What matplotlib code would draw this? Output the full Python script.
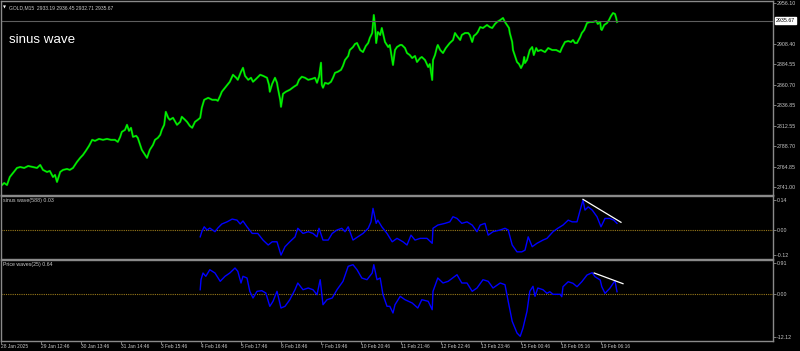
import numpy as np
import matplotlib
matplotlib.use("Agg")
from matplotlib import pyplot as plt

plt.rcParams['font.family'] = ['Liberation Sans', 'DejaVu Sans']

# ---- data (bar index of M15 bars) ----
price_bar = [0, 8, 15, 22, 32, 40, 48, 58, 68, 80, 90, 98, 105, 115, 122, 130, 135, 140, 148, 155,
             165, 172, 180, 190, 198, 205, 212, 220, 228, 235, 245, 255, 265, 275, 285, 292, 298, 302,
             310, 315, 320, 325, 330, 338, 342, 348, 352, 360, 365, 372, 380, 385, 392, 398, 402, 408,
             412, 418, 422, 430, 440, 448, 452, 460, 465, 472, 478, 485, 492, 498, 502, 508, 518, 528,
             538, 542, 548, 552, 562, 572, 580, 588, 592, 600, 605, 610, 618, 625, 630, 638, 648, 655,
             665, 670, 672, 678, 685, 690, 692, 698, 700, 705, 712, 722, 732, 740, 745, 752, 760, 768,
             778, 785, 790, 795, 800, 802, 805, 810, 818, 825, 830, 835, 842, 850, 855, 860, 868, 872,
             880, 885, 890, 898, 905, 912, 918, 922, 928, 932, 935, 938, 942, 948, 952, 960, 968, 972,
             980, 985, 990, 998, 1002, 1010, 1015, 1022, 1028, 1035, 1040, 1048, 1052, 1060, 1068, 1072,
             1078, 1080, 1085, 1090, 1092, 1098, 1105, 1112, 1122, 1130, 1135, 1140, 1148, 1152, 1160,
             1168, 1172, 1178, 1182, 1188, 1192, 1198, 1205, 1215, 1222, 1228, 1235, 1240, 1248, 1255,
             1260, 1265, 1270, 1272, 1278, 1280, 1285, 1290, 1295, 1300, 1305, 1308, 1310, 1315, 1322,
             1328, 1332, 1338, 1342, 1350, 1360, 1368, 1378, 1388, 1398, 1402, 1410, 1418, 1425, 1430,
             1435, 1440, 1448, 1452, 1458, 1465, 1472, 1480, 1488, 1492, 1498, 1500, 1502, 1508, 1515,
             1520, 1525, 1530, 1535, 1538, 1540]
price_val = [2742.2, 2745.7, 2743.3, 2752.7, 2758.6, 2763.3, 2764.4, 2763.3, 2765.6, 2764.4, 2763.3,
             2766.8, 2761.0, 2758.6, 2759.8, 2752.7, 2755.1, 2746.9, 2758.6, 2761.0, 2762.1, 2761.0,
             2763.3, 2770.4, 2775.1, 2778.6, 2783.3, 2789.1, 2796.2, 2795.0, 2797.3, 2796.2, 2797.3,
             2796.2, 2796.2, 2793.8, 2799.7, 2805.5, 2807.9, 2813.8, 2806.7, 2810.3, 2799.7, 2800.9,
             2798.5, 2790.3, 2784.5, 2778.6, 2775.1, 2784.5, 2790.3, 2796.2, 2798.5, 2802.0, 2807.9,
             2813.8, 2829.0, 2822.0, 2819.7, 2822.0, 2813.8, 2817.3, 2823.2, 2819.7, 2817.3, 2812.6,
             2810.3, 2817.3, 2819.7, 2822.0, 2833.7, 2843.1, 2845.4, 2843.1, 2843.1, 2841.9, 2847.8,
             2852.5, 2858.3, 2864.2, 2872.4, 2868.9, 2866.5, 2875.9, 2880.6, 2871.2, 2866.5, 2868.9,
             2864.2, 2867.7, 2872.4, 2871.2, 2868.9, 2860.6, 2852.5, 2861.8, 2868.9, 2863.0, 2857.2,
             2843.1, 2834.9, 2850.1, 2852.5, 2854.8, 2858.3, 2860.7, 2866.5, 2870.1, 2868.9, 2866.5,
             2867.7, 2868.9, 2863.0, 2870.1, 2886.5, 2860.7, 2857.2, 2863.0, 2861.8, 2864.2, 2868.9,
             2874.7, 2875.9, 2878.2, 2882.9, 2889.7, 2894.4, 2901.4, 2904.9, 2908.4, 2909.6, 2901.4,
             2899.0, 2906.1, 2909.6, 2915.5, 2921.3, 2942.4, 2930.7, 2909.6, 2922.5, 2919.0, 2927.2,
             2910.8, 2904.9, 2907.3, 2883.9, 2901.4, 2904.9, 2907.3, 2907.3, 2903.7, 2897.9, 2895.5,
             2892.0, 2894.4, 2887.4, 2892.0, 2893.2, 2889.7, 2881.5, 2885.0, 2866.3, 2889.7, 2895.5,
             2904.9, 2907.3, 2901.4, 2897.9, 2903.7, 2909.6, 2913.1, 2921.3, 2917.8, 2913.1, 2919.0,
             2921.3, 2921.3, 2919.0, 2910.8, 2917.8, 2920.1, 2922.5, 2928.3, 2927.2, 2930.7, 2928.3,
             2927.2, 2931.9, 2934.2, 2936.5, 2938.9, 2934.2, 2930.7, 2927.2, 2921.3, 2910.8, 2901.4,
             2894.4, 2887.4, 2885.0, 2880.3, 2885.0, 2893.2, 2886.2, 2889.7, 2901.4, 2904.9, 2895.5,
             2903.7, 2900.2, 2901.4, 2899.0, 2903.7, 2901.4, 2901.4, 2899.0, 2903.7, 2910.8, 2911.9,
             2910.8, 2913.1, 2909.6, 2909.6, 2916.6, 2921.3, 2924.8, 2933.0, 2934.2, 2934.2, 2935.4,
             2931.9, 2934.2, 2926.0, 2924.8, 2930.7, 2933.0, 2936.5, 2941.2, 2944.7, 2943.6, 2938.9,
             2934.2]

sinus_bar = [498, 502, 508, 515, 522, 535, 542, 552, 565, 578, 590, 598, 605, 615, 628, 642, 655, 668,
             678, 690, 700, 710, 722, 735, 742, 755, 768, 780, 790, 795, 805, 818, 828, 840, 852, 860,
             868, 880, 892, 905, 918, 925, 930, 938, 942, 952, 965, 978, 990, 1005, 1015, 1025, 1035,
             1048, 1065, 1078, 1080, 1092, 1110, 1122, 1130, 1140, 1152, 1165, 1178, 1190, 1198, 1210,
             1218, 1230, 1248, 1260, 1268, 1278, 1290, 1302, 1310, 1318, 1328, 1340, 1355, 1365, 1380,
             1392, 1405, 1418, 1428, 1440, 1448, 1455, 1460, 1468, 1478, 1490, 1500, 1510, 1522, 1532,
             1540]
sinus_val = [-0.034, -0.010, 0.013, -0.002, 0.007, -0.010, 0.007, 0.026, 0.036, 0.049, 0.044, 0.026,
             0.040, 0.013, -0.018, -0.018, -0.049, -0.072, -0.057, -0.057, -0.119, -0.080, -0.057,
             -0.034, 0.006, -0.018, -0.010, -0.018, -0.034, 0.006, -0.049, -0.049, -0.018, -0.002,
             0.006, -0.010, 0.013, -0.049, -0.034, -0.018, 0.006, 0.036, 0.099, 0.029, 0.044, 0.013,
             -0.018, -0.057, -0.041, -0.057, -0.072, -0.026, -0.049, -0.041, -0.041, -0.064, 0.006,
             0.021, 0.029, 0.036, 0.060, 0.052, 0.029, 0.036, 0.021, -0.010, 0.021, 0.029, -0.026,
             -0.010, -0.002, 0.006, -0.002, -0.072, -0.104, -0.104, -0.096, -0.034, -0.080, -0.064,
             -0.049, -0.041, -0.010, 0.006, 0.021, 0.044, 0.036, 0.036, 0.091, 0.138, 0.091, 0.106,
             0.091, 0.060, 0.013, 0.052, 0.052, 0.044, 0.029]

waves_bar = [498, 500, 505, 512, 522, 535, 548, 560, 572, 585, 592, 600, 605, 615, 622, 630, 640, 652,
             662, 672, 680, 690, 700, 710, 722, 735, 742, 755, 768, 780, 790, 798, 805, 815, 828, 840,
             855, 868, 880, 890, 902, 915, 928, 932, 940, 948, 955, 965, 972, 980, 985, 998, 1010, 1028,
             1042, 1052, 1068, 1078, 1080, 1092, 1105, 1118, 1140, 1152, 1165, 1178, 1190, 1205, 1218,
             1230, 1248, 1260, 1268, 1278, 1290, 1298, 1305, 1315, 1322, 1330, 1335, 1342, 1355, 1365,
             1372, 1380, 1398, 1402, 1405, 1418, 1430, 1440, 1452, 1465, 1478, 1485, 1498, 1502, 1510,
             1522, 1535, 1540]
waves_val = [0.135, 0.429, 0.626, 0.529, 0.723, 0.626, 0.382, 0.529, 0.626, 0.773, 0.676, 0.332, 0.529,
             0.479, 0.088, -0.109, 0.088, 0.106, 0.038, -0.353, -0.206, 0.088, -0.403, -0.353, -0.159,
             0.135, 0.332, 0.135, 0.185, 0.135, -0.012, 0.429, -0.306, -0.159, -0.109, 0.135, 0.382,
             0.823, 0.870, 0.723, 0.479, 0.429, 0.626, 0.870, 0.429, 0.479, -0.012, -0.353, -0.353,
             -0.550, -0.306, -0.059, -0.159, -0.256, -0.403, -0.159, -0.206, -0.453, 0.088, 0.479,
             0.332, 0.382, 0.576, 0.332, 0.332, 0.088, 0.185, 0.429, 0.382, 0.185, 0.332, 0.282,
             -0.206, -0.794, -1.138, -1.235, -0.991, -0.500, 0.088, 0.235, -0.059, 0.185, 0.135,
             0.029, 0.076, 0.000, 0.000, -0.071, 0.223, 0.370, 0.323, 0.223, 0.370, 0.567, 0.635,
             0.517, 0.420, 0.223, 0.029, 0.176, 0.400, 0.076]

# trendlines drawn on the indicator windows
trend1_bar = [1455, 1550]
trend1_val = [0.141, 0.034]
trend2_bar = [1483, 1555]
trend2_val = [0.626, 0.312]

time_ticks = [0, 100, 200, 300, 400, 500, 600, 700, 800, 900, 1000, 1100, 1200, 1300, 1400, 1500]
time_labels = ["28 Jan 2025", "29 Jan 12:46", "30 Jan 13:46", "31 Jan 14:46", "3 Feb 15:46",
               "4 Feb 16:46", "5 Feb 17:46", "6 Feb 18:46", "7 Feb 19:46", "10 Feb 20:46",
               "11 Feb 21:46", "12 Feb 22:46", "13 Feb 23:46", "15 Feb 00:46", "18 Feb 05:16",
               "19 Feb 06:16"]

# 2932.25 sits under the bid box in the terminal, so it is left out
price_ticks = [2956.10, 2908.40, 2884.55, 2860.70, 2836.85, 2812.55, 2788.70, 2764.85, 2741.00]
bid = 2935.67
sinus_ticks = [0.14, 0.0, -0.12]
sinus_labels = ["0.14", "0.00", "-0.12"]
waves_ticks = [0.91, 0.0, -1.255]
waves_labels = ["0.91", "0.00", "-12.12"]

# ---- layout helpers ----
W, H = 800, 351
BG = "black"
FRAME = "#8a8a8a"
TXT = "#c8c8c8"
ZERO = "#9a7a1a"


def pane(y0, y1, x0=1, x1=773):
    return [x0 / W, 1 - y1 / H, (x1 - x0) / W, (y1 - y0) / H]


fig = plt.figure(figsize=(W / 100, H / 100), dpi=100, facecolor=BG)
ax0 = fig.add_axes(pane(1, 194.5))
ax1 = fig.add_axes(pane(195.5, 258.5))
ax2 = fig.add_axes(pane(259.5, 340.5))

for ax in (ax0, ax1, ax2):
    ax.set_facecolor(BG)
    for s in ax.spines.values():
        s.set_color(FRAME)
        s.set_linewidth(1.0)
    ax.set_xlim(0, 1930)
    ax.yaxis.tick_right()
    ax.tick_params(axis="y", colors=FRAME, labelcolor=TXT, labelsize=3.8, length=2, width=0.6, pad=1)
    ax.tick_params(axis="x", bottom=False, labelbottom=False)

# main price window
ax0.set_ylim(2732.2, 2958.8)
ax0.plot(price_bar, price_val, color="#00a800", lw=1.5)
ax0.plot(price_bar, price_val, color="#00ff00", lw=0.7)
ax0.axhline(bid, color="#5e5e5e", lw=0.8)
ax0.set_yticks(price_ticks)
ax0.set_yticklabels(["%.2f" % v for v in price_ticks])
ax0.text(1.004, bid, "%.2f" % bid, transform=ax0.get_yaxis_transform(), fontsize=3.8,
         color="black", va="center", ha="left",
         bbox=dict(boxstyle="square,pad=0.15", fc="white", ec="white"))
ax0.text(0.003, 0.965, "\u25bc", transform=ax0.transAxes, fontsize=2.8, color="white",
         va="center", ha="left", family="DejaVu Sans")
ax0.text(0.011, 0.965, "GOLD,M15  2933.19 2936.45 2932.71 2935.67", transform=ax0.transAxes,
         fontsize=3.6, color=TXT, va="center", ha="left")
ax0.text(0.011, 0.80, "sinus wave", transform=ax0.transAxes, fontsize=9.6, color="white",
         va="center", ha="left")

# sinus wave window
ax1.set_ylim(-0.135, 0.159)
ax1.axhline(0, color=ZERO, lw=0.8, ls=(0, (1, 1)))
ax1.plot(sinus_bar, sinus_val, color="#0000ff", lw=1.0)
ax1.plot(trend1_bar, trend1_val, color="white", lw=0.9)
ax1.set_yticks(sinus_ticks)
ax1.set_yticklabels(sinus_labels)
ax1.text(0.003, 0.92, "sinus wave(588) 0.03", transform=ax1.transAxes, fontsize=3.8, color=TXT,
         va="center", ha="left")

# price waves window
ax2.set_ylim(-1.358, 1.023)
ax2.axhline(0, color=ZERO, lw=0.8, ls=(0, (1, 1)))
ax2.plot(waves_bar, waves_val, color="#0000ff", lw=1.0)
ax2.plot(trend2_bar, trend2_val, color="white", lw=0.9)
ax2.set_yticks(waves_ticks)
ax2.set_yticklabels(waves_labels)
ax2.text(0.003, 0.94, "Price waves(25) 0.64", transform=ax2.transAxes, fontsize=3.8, color=TXT,
         va="center", ha="left")

ax2.tick_params(axis="x", bottom=True, labelbottom=True, colors=FRAME, labelcolor=TXT,
                labelsize=3.5, length=2, width=0.6, pad=0.5)
ax2.set_xticks(time_ticks)
ax2.set_xticklabels(time_labels)
for lbl in ax2.get_xticklabels():
    lbl.set_ha("left")

fig.savefig("out.png", dpi=100, facecolor=BG)
